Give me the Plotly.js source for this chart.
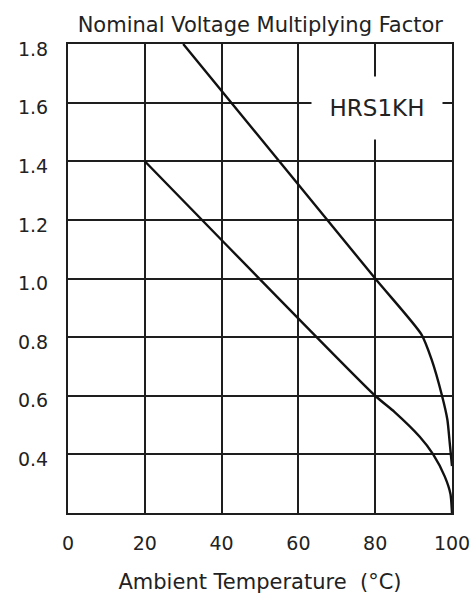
<!DOCTYPE html>
<html>
<head>
<meta charset="utf-8">
<script src="https://cdn.plot.ly/plotly-3.0.1.min.js"></script>
<style>html,body{margin:0;padding:0;background:#fff;}#chart{width:475px;height:598px;}</style>
</head>
<body>
<div id="chart"></div>
<script>
// Data
const upperTemp = [30, 80, 92, 94.7, 97.4, 98.8, 99.4, 100];
const upperFactor = [1.8, 1.0, 0.81, 0.723, 0.6, 0.518, 0.44, 0.36];
const lowerTemp = [20, 80, 85, 91.6, 95.1, 98.1, 99.6, 100];
const lowerFactor = [1.4, 0.6, 0.545, 0.46, 0.4, 0.325, 0.265, 0.2];
const xTickVals = [0, 20, 40, 60, 80, 100];
const xTickText = ['0', '20', '40', '60', '80', '100'];
const yTickVals = [0.4, 0.6, 0.8, 1.0, 1.2, 1.4, 1.6, 1.8];
const yTickText = ['0.4', '0.6', '0.8', '1.0', '1.2', '1.4', '1.6', '1.8'];
const seriesLabel = 'HRS1KH';
const chartTitle = 'Nominal Voltage Multiplying Factor';
const xTitle = 'Ambient Temperature\u00a0 (\u00b0C)';

const FONT = 'DejaVu Sans, Verdana, sans-serif';
const lineStyle = {color: '#111', width: 2.4, shape: 'spline', smoothing: 0.6};

const traces = [
  {x: upperTemp, y: upperFactor, mode: 'lines', line: lineStyle, hoverinfo: 'skip', showlegend: false},
  {x: lowerTemp, y: lowerFactor, mode: 'lines', line: lineStyle, hoverinfo: 'skip', showlegend: false}
];

const axisCommon = {
  showgrid: true, gridcolor: '#1e1e1e', gridwidth: 2,
  showline: true, linecolor: '#1e1e1e', linewidth: 2, mirror: true,
  zeroline: false, ticks: '', fixedrange: true,
  tickfont: {family: FONT, size: 19, color: '#222'}
};

const layout = {
  width: 475, height: 598,
  margin: {l: 68, r: 23, t: 44, b: 85},
  paper_bgcolor: '#fff', plot_bgcolor: '#fff',
  title: {text: chartTitle, font: {family: FONT, size: 21, color: '#222'},
          xref: 'container', yref: 'container', x: 0.548, xanchor: 'center', y: 0.958, yanchor: 'middle'},
  xaxis: Object.assign({}, axisCommon, {
    range: [0, 100], tickmode: 'array', tickvals: xTickVals, ticktext: xTickText,
    ticklabelstandoff: 12,
    title: {text: xTitle, font: {family: FONT, size: 21, color: '#222'}, standoff: 22}
  }),
  yaxis: Object.assign({}, axisCommon, {
    range: [0.2, 1.8], tickmode: 'array', tickvals: yTickVals, ticktext: yTickText,
    ticklabelstandoff: 14, ticklabelshift: 5
  }),
  annotations: [{
    x: 80, y: 1.6, xref: 'x', yref: 'y', text: seriesLabel, showarrow: false,
    font: {family: FONT, size: 23, color: '#222'},
    bgcolor: '#fff', width: 128, height: 60, xshift: 2, yshift: -5
  }]
};

Plotly.newPlot('chart', traces, layout, {displayModeBar: false, staticPlot: true});
</script>
</body>
</html>
